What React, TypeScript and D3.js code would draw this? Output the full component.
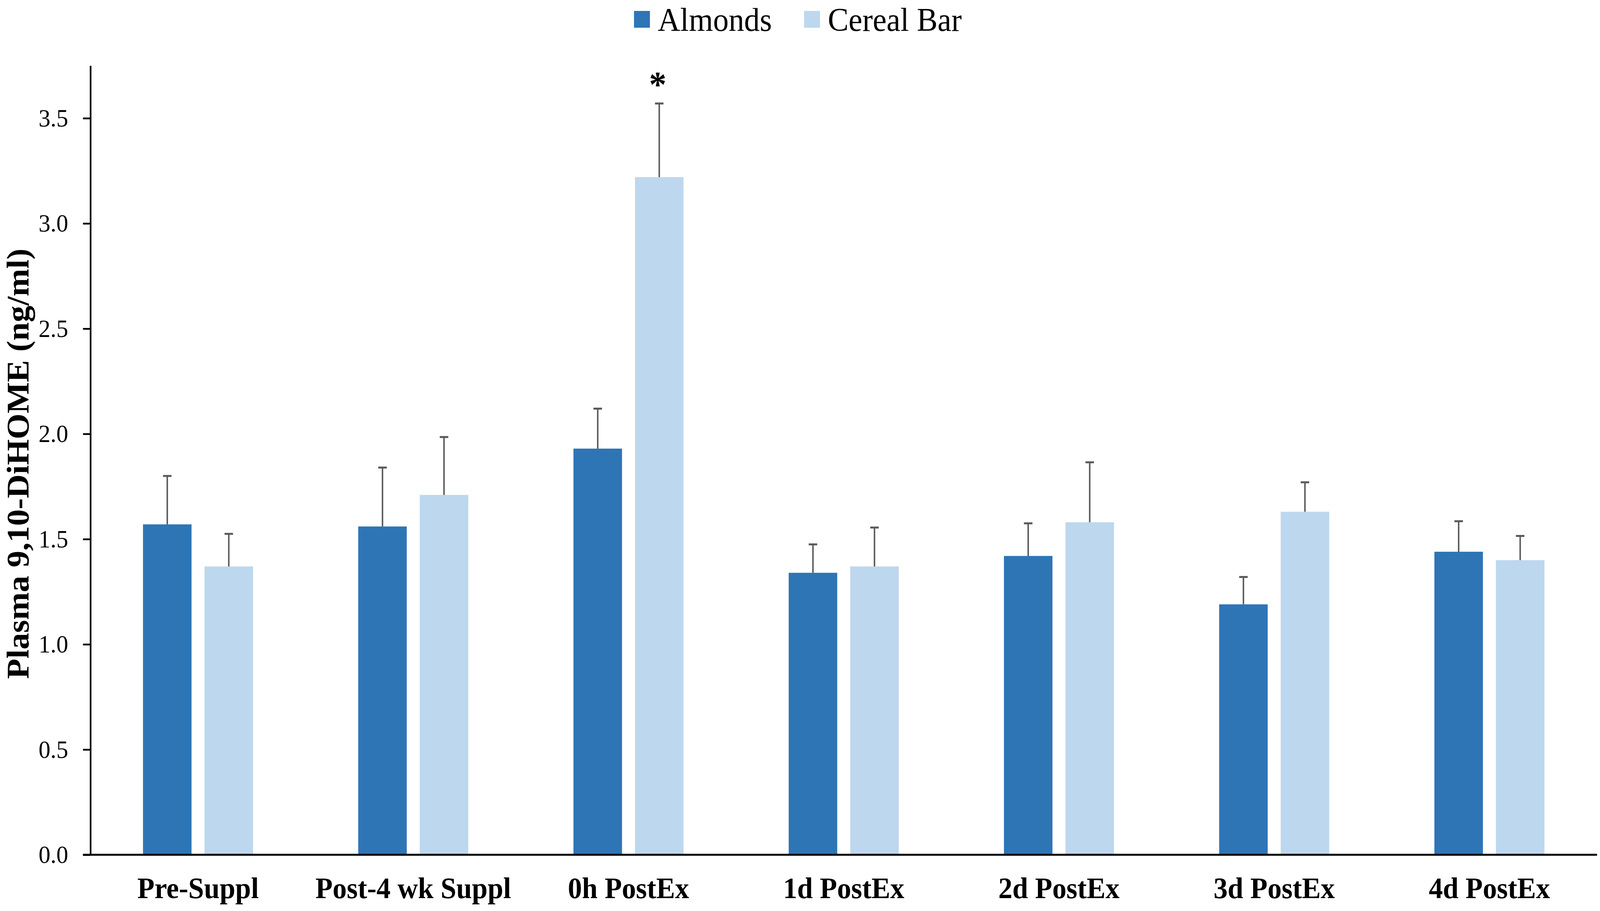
import React, { useRef, useEffect } from "react";
import * as d3 from "d3";

const categories = [
    "Pre-Suppl",
    "Post-4 wk Suppl",
    "0h PostEx",
    "1d PostEx",
    "2d PostEx",
    "3d PostEx",
    "4d PostEx",
];
const seriesNames = ["Almonds", "Cereal Bar"];
const seriesColors = ["#2E75B6", "#BDD7EE"];

const almonds = [1.57, 1.56, 1.93, 1.34, 1.42, 1.19, 1.44];
const almondsErr = [0.23, 0.28, 0.19, 0.135, 0.155, 0.13, 0.145];
const cereal = [1.37, 1.71, 3.22, 1.37, 1.58, 1.63, 1.4];
const cerealErr = [0.155, 0.275, 0.35, 0.185, 0.285, 0.14, 0.115];
const cerealSig = ["", "", "*", "", "", "", ""];

const yTicks = [0, 0.5, 1.0, 1.5, 2.0, 2.5, 3.0, 3.5];

const W = 4318;
const H = 2333;
const FONT = "'Liberation Serif', 'Times New Roman', serif";

const Chart = () => {
    const ref = useRef<SVGSVGElement | null>(null);

    useEffect(() => {
        const margin = { left: 244, right: 8, top: 168, bottom: 144 };
        const svg = d3.select(ref.current);
        svg.selectAll("*").remove();

        const x = d3
            .scaleBand<string>()
            .domain(categories)
            .range([margin.left, W - margin.right])
            .padding(0);
        const xs = d3
            .scaleBand<string>()
            .domain(seriesNames)
            .range([0, x.bandwidth()])
            .paddingInner(0.211)
            .paddingOuter(0.855);
        const y = d3
            .scaleLinear()
            .domain([0, 3.75])
            .range([H - margin.bottom, margin.top]);

        const rows = categories.map((c, i) => ({
            cat: c,
            vals: [
                { s: seriesNames[0], v: almonds[i], e: almondsErr[i], sig: "" },
                { s: seriesNames[1], v: cereal[i], e: cerealErr[i], sig: cerealSig[i] },
            ],
        }));

        const groups = svg
            .selectAll(".grp")
            .data(rows)
            .enter()
            .append("g")
            .attr("class", "grp")
            .attr("transform", (d) => `translate(${x(d.cat)},0)`);

        const bars = groups
            .selectAll(".bar")
            .data((d) => d.vals)
            .enter()
            .append("g")
            .attr("class", "bar");

        bars
            .append("rect")
            .attr("x", (d) => xs(d.s)!)
            .attr("y", (d) => y(d.v))
            .attr("width", xs.bandwidth())
            .attr("height", (d) => y(0) - y(d.v))
            .attr("fill", (d, i) => seriesColors[i]);

        // error bars (upper only)
        bars
            .append("line")
            .attr("x1", (d) => xs(d.s)! + xs.bandwidth() / 2)
            .attr("x2", (d) => xs(d.s)! + xs.bandwidth() / 2)
            .attr("y1", (d) => y(d.v))
            .attr("y2", (d) => y(d.v + d.e))
            .attr("stroke", "#595959")
            .attr("stroke-width", 4);
        bars
            .append("line")
            .attr("x1", (d) => xs(d.s)! + xs.bandwidth() / 2 - 11.5)
            .attr("x2", (d) => xs(d.s)! + xs.bandwidth() / 2 + 11.5)
            .attr("y1", (d) => y(d.v + d.e))
            .attr("y2", (d) => y(d.v + d.e))
            .attr("stroke", "#595959")
            .attr("stroke-width", 5);

        bars
            .filter((d) => d.sig !== "")
            .append("text")
            .attr("x", (d) => xs(d.s)! + xs.bandwidth() / 2 - 4)
            .attr("y", (d) => y(d.v + d.e) - 18)
            .attr("text-anchor", "middle")
            .attr("font-family", FONT)
            .attr("font-weight", "bold")
            .attr("font-size", 94)
            .text((d) => d.sig);

        // y axis
        const yAxis = svg
            .append("g")
            .attr("transform", `translate(${margin.left},0)`)
            .call(
                d3
                    .axisLeft(y)
                    .tickValues(yTicks)
                    .tickFormat(d3.format(".1f"))
                    .tickSize(20)
                    .tickSizeOuter(0)
                    .tickPadding(40)
            );
        yAxis.select(".domain").attr("stroke", "#000").attr("stroke-width", 4.5);
        yAxis.selectAll(".tick line").attr("stroke", "#000").attr("stroke-width", 4.5);
        yAxis
            .selectAll(".tick text")
            .attr("font-family", FONT)
            .attr("font-size", 64)
            .attr("fill", "#000");

        // x axis
        svg
            .append("line")
            .attr("x1", margin.left - 20)
            .attr("x2", W - margin.right)
            .attr("y1", y(0))
            .attr("y2", y(0))
            .attr("stroke", "#000")
            .attr("stroke-width", 5);
        svg
            .selectAll(".xlab")
            .data(categories)
            .enter()
            .append("text")
            .attr("class", "xlab")
            .attr("x", (d) => x(d)! + x.bandwidth() / 2)
            .attr("y", y(0) + 111)
            .attr("text-anchor", "middle")
            .attr("font-family", FONT)
            .attr("font-weight", "bold")
            .attr("font-size", 76)
            .text((d) => d);

        // y title
        svg
            .append("text")
            .attr("transform", `translate(77,${(y(0) + y(3.75)) / 2 + 9}) rotate(-90)`)
            .attr("text-anchor", "middle")
            .attr("font-family", FONT)
            .attr("font-weight", "bold")
            .attr("font-size", 85)
            .text("Plasma 9,10-DiHOME (ng/ml)");

        // legend
        const legendX = [1711, 2170];
        const lg = svg
            .selectAll(".lg")
            .data(seriesNames)
            .enter()
            .append("g")
            .attr("class", "lg")
            .attr("transform", (d, i) => `translate(${legendX[i]},0)`);
        lg.append("rect")
            .attr("x", 0)
            .attr("y", 28)
            .attr("width", 43)
            .attr("height", 43)
            .attr("fill", (d, i) => seriesColors[i]);
        lg.append("text")
            .attr("x", 64)
            .attr("y", 79)
            .attr("font-family", FONT)
            .attr("font-size", 84)
            .text((d) => d);
    }, []);

    return (
        <svg
            ref={ref}
            viewBox={`0 0 ${W} ${H}`}
            preserveAspectRatio="none"
            style={{ display: "block", width: "100vw", height: "100vh", background: "#fff" }}
        />
    );
};

export default function App() {
    return (
        <div>
            <style>{`html,body{margin:0;padding:0;overflow:hidden;background:#fff}`}</style>
            <Chart />
        </div>
    );
}
